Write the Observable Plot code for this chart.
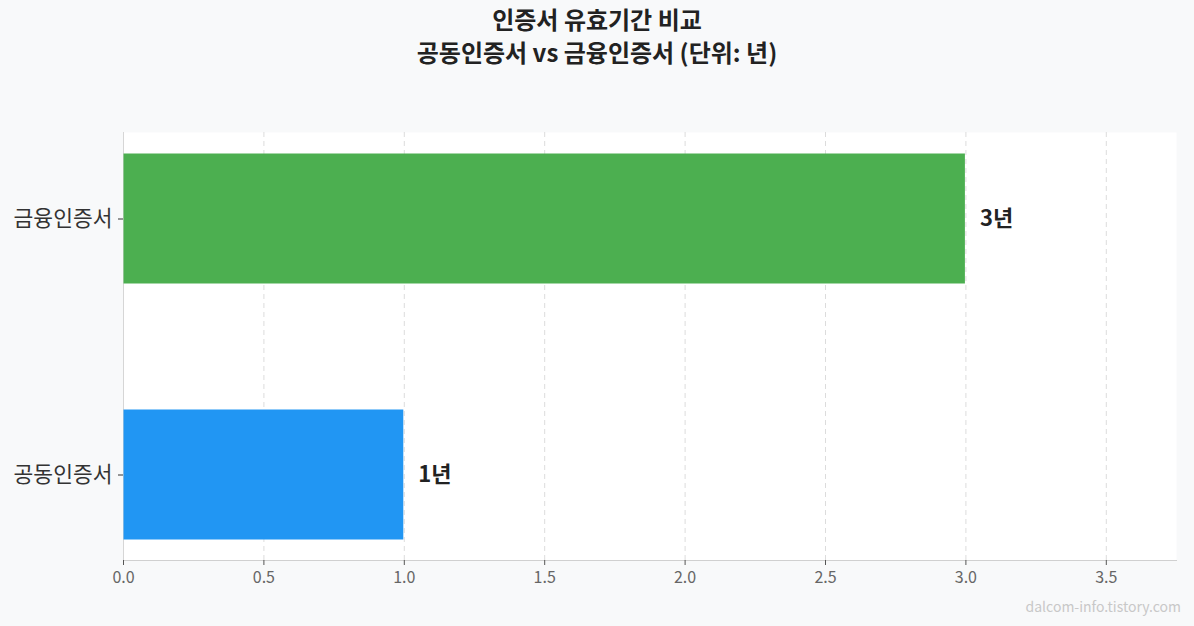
<!DOCTYPE html>
<html><head><meta charset="utf-8">
<script src="https://cdn.jsdelivr.net/npm/d3@7"></script>
<script src="https://cdn.jsdelivr.net/npm/@observablehq/plot@0.6"></script>
<style>
body{margin:0;background:#f8f9fa;font-family:"Noto Sans CJK KR","Noto Sans",sans-serif;width:1194px;height:626px;overflow:hidden;position:relative}
#title{height:90px;position:relative}
.t{position:absolute;left:0;right:0;text-align:center;font-weight:700;font-size:24px;line-height:34px;height:34px;color:#222}
#t1{top:2px}
#t2{top:35px}
#chart svg{display:block}
#wm{position:absolute;right:13px;top:596px;font-size:14px;color:#c8c8c8}
</style></head>
<body>
<div id="title"><div class="t" id="t1">인증서 유효기간 비교</div><div class="t" id="t2">공동인증서 vs 금융인증서 (단위: 년)</div></div>
<div id="chart"></div>
<div id="wm">dalcom-info.tistory.com</div>
<script>
const categories = ["금융인증서", "공동인증서"];
const years = [3, 1];
const colors = ["#4CAF50", "#2196F3"];
const xTicks = [0, 0.5, 1, 1.5, 2, 2.5, 3, 3.5];
const data = categories.map((c, i) => ({cert: c, years: years[i], color: colors[i]}));

const chart = Plot.plot({
  width: 1194, height: 536,
  marginTop: 42, marginBottom: 66, marginLeft: 123, marginRight: 18,
  style: {background: "transparent", fontFamily: "'Noto Sans CJK KR', sans-serif"},
  x: {domain: [0, 3.75], label: null},
  y: {domain: categories, paddingInner: 0.49, paddingOuter: 0.08, label: null},
  marks: [
    Plot.frame({fill: "white", stroke: null}),
    Plot.gridX(xTicks, {stroke: "#dcdcdc", strokeDasharray: "5,4", strokeOpacity: 1}),
    Plot.ruleX([0], {stroke: "#d6d6d6"}),
    Plot.frame({anchor: "bottom", stroke: "#d0d0d0"}),
    Plot.barX(data, {x: "years", y: "cert", fill: "color", inset: 0.5}),
    Plot.text(data, {x: "years", y: "cert", text: d => d.years + "년", textAnchor: "start", dx: 14, fontWeight: 700, fontSize: 22, fill: "#222"}),
    Plot.axisX({ticks: xTicks, tickFormat: d => d.toFixed(1), tickSize: 5, tickPadding: 6, stroke: "#555", fill: "#666", fontSize: 16, label: null}),
    Plot.axisY({tickSize: 5, tickPadding: 6, stroke: "#333", fill: "#333", fontSize: 21.5, label: null})
  ]
});
document.getElementById("chart").appendChild(chart);
</script>
</body></html>
